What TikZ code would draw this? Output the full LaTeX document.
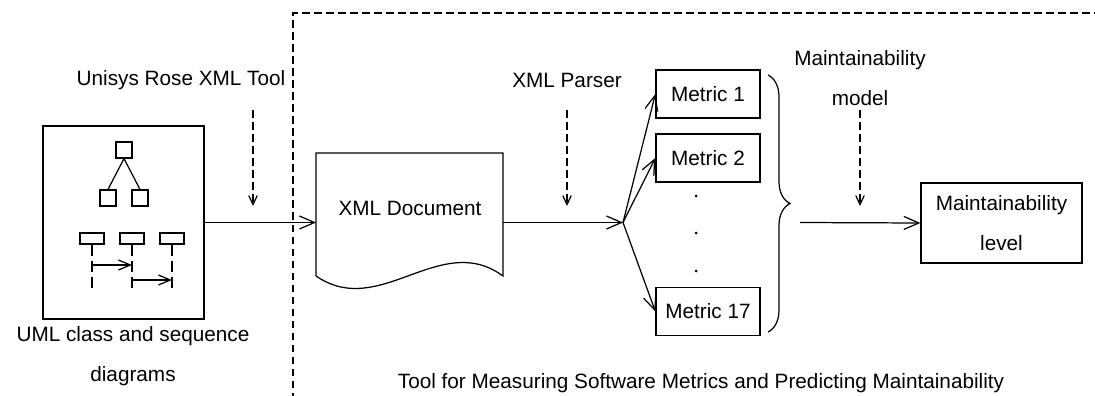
\documentclass[tikz,border=0pt]{standalone}
\usepackage{fontspec}
\setmainfont{Liberation Sans}
\usetikzlibrary{arrows.meta, decorations.pathreplacing}

\begin{document}
\begin{tikzpicture}[x=0.2mm, y=-0.2mm, line width=0.7pt,
  lbl/.style={font=\fontsize{11.8pt}{22.8pt}\selectfont, inner sep=0pt, align=center},
  metricbox/.style={draw, lbl, minimum width=20.8mm, minimum height=9.6mm},
  flow/.style={-{Straight Barb[length=3mm, width=2.6mm]}},
  hint/.style={dash pattern=on 1.5mm off 0.9mm, -{Straight Barb[length=1.8mm, width=1.7mm]}},
  msg/.style={-{Straight Barb[length=2.4mm, width=2mm]}},
  classsq/.style={draw, minimum size=3.2mm, inner sep=0pt},
  objsq/.style={draw, minimum width=4.8mm, minimum height=2.2mm, inner sep=0pt},
]
  \useasboundingbox (0,0) rectangle (1095,396);
  % tool frame
  \coordinate (fr-a) at (293,400);
  \coordinate (fr-b) at (293,13);
  \coordinate (fr-c) at (1100,13);
  \draw[dash pattern=on 1.5mm off 0.9mm] (fr-a) -- (fr-b) -- (fr-c);

  % UML diagrams
  \node[draw, minimum width=32.2mm, minimum height=38.6mm] (uml) at (123.5,222.5) {};
  \node[classsq] (c0) at (124,150) {};
  \node[classsq] (c1) at (108,198) {};
  \node[classsq] (c2) at (140,198) {};
  \draw (c0.south) -- (c1.north);
  \draw (c0.south) -- (c2.north);
  \foreach \i/\x in {1/92, 2/132, 3/172} {
    \node[objsq] (s\i) at (\x,238.5) {};
    \coordinate (l\i) at (\x,289);
    \draw[dash pattern=on 2.2mm off 1mm] (s\i.south) -- (l\i);
  }
  \coordinate (ma) at (92,265);
  \coordinate (mb) at (132,265);
  \coordinate (mc) at (132,280);
  \coordinate (md) at (172,280);
  \draw[msg] (ma) -- (mb);
  \draw[msg] (mc) -- (md);
  \node[lbl] (umltxt) at (133,356) {UML class and sequence\\diagrams};

  \node[lbl] (rose) at (181,80) {Unisys Rose XML Tool};
  \coordinate (rose-a) at (253,110);
  \coordinate (rose-b) at (253,206);
  \draw[hint] (rose-a) -- (rose-b);

  % XML document
  \coordinate (doc-nw) at (316,153);
  \coordinate (doc-ne) at (503,153);
  \coordinate (doc-se) at (503,276);
  \coordinate (doc-sw) at (316,276);
  \draw (doc-sw) -- (doc-nw) -- (doc-ne) -- (doc-se)
    .. controls (440,230) and (380,320) .. (doc-sw);
  \node[lbl] (doc) at (410,208) {XML Document};
  \coordinate (doc-in) at (316,222.5);
  \coordinate (doc-out) at (503,222.5);
  \draw[flow] (uml.east) -- (doc-in);

  \node[lbl] (parser) at (567,80) {XML Parser};
  \coordinate (parser-a) at (567,110);
  \coordinate (parser-b) at (567,206);
  \draw[hint] (parser-a) -- (parser-b);

  % metrics
  \coordinate (fork) at (623,222.5);
  \draw[flow] (doc-out) -- (fork);
  \node[metricbox] (m1) at (708,94) {Metric 1};
  \node[metricbox] (m2) at (708,158) {Metric 2};
  \node[metricbox] (m17) at (708,311.5) {Metric 17};
  \foreach \m in {m1, m2, m17} \draw[flow] (fork) -- (\m.west);
  \foreach \y in {196, 233, 271} \fill (696,\y) circle (0.3mm);
  \coordinate (br-a) at (768,75);
  \coordinate (br-b) at (768,332);
  \draw[decorate, decoration={brace, amplitude=4.4mm}] (br-a) -- (br-b);

  \node[lbl] (model) at (860,78.5) {Maintainability\\model};
  \coordinate (model-a) at (860,110);
  \coordinate (model-b) at (860,206);
  \draw[hint] (model-a) -- (model-b);

  \node[draw, lbl, minimum width=32.2mm, minimum height=16mm] (level) at (1001.5,223)
    {Maintainability\\level};
  \coordinate (br-out) at (800,222.5);
  \draw[flow] (br-out) -- (level.west);

  \node[lbl] (caption) at (701,383)
    {Tool for Measuring Software Metrics and Predicting Maintainability};
\end{tikzpicture}
\end{document}
